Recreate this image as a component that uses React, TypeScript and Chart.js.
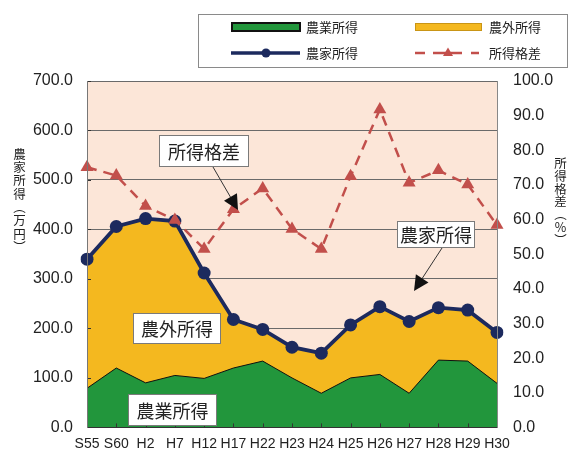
import React, { useEffect, useRef } from "react";
import { Chart, registerables } from "chart.js";

Chart.register(...registerables);

const categories = ["S55", "S60", "H2", "H7", "H12", "H17", "H22", "H23", "H24", "H25", "H26", "H27", "H28", "H29", "H30"];
// 農業所得 (万円)
const farmIncome = [79, 120, 90, 105, 99, 120, 134, 100, 69, 100, 107, 69, 136, 134, 89];
// 農家所得 (万円) = top of 農外所得 area
const householdIncome = [340, 406, 422, 417, 312, 218, 198, 162, 150, 207, 244, 214, 242, 237, 192];
// 所得格差 (%)
const incomeGap = [75.1, 72.7, 63.9, 59.9, 51.5, 63.0, 69.0, 57.3, 51.5, 72.5, 91.8, 70.6, 74.2, 70.1, 58.4];

const leftAxisMax = 700;
const leftAxisStep = 100;
const rightAxisMax = 100;
const rightAxisStep = 10;

const legendLabels = ["農業所得", "農外所得", "農家所得", "所得格差"];
const leftTitle = ["農", "家", "所", "得", "︵", "万", "円", "︶"];
const rightTitle = ["所", "得", "格", "差", "︵", "%", "︶"];

const GREEN = "#22963c";
const YELLOW = "#f4b81f";
const NAVY = "#1c2a5e";
const RED = "#c24f4b";
const CJK = '"Noto Sans CJK JP", "Noto Sans", sans-serif';
const LATIN = '"Liberation Sans", Arial, sans-serif';

function drawArrow(ctx: CanvasRenderingContext2D, x1: number, y1: number, x2: number, y2: number) {
  const dx = x2 - x1;
  const dy = y2 - y1;
  const len = Math.hypot(dx, dy);
  const ux = dx / len;
  const uy = dy / len;
  const hl = 15;
  const hw = 7.5;
  const bx = x2 - ux * hl;
  const by = y2 - uy * hl;
  ctx.save();
  ctx.strokeStyle = "#333";
  ctx.lineWidth = 1;
  ctx.beginPath();
  ctx.moveTo(x1, y1);
  ctx.lineTo(bx, by);
  ctx.stroke();
  ctx.fillStyle = "#111";
  ctx.beginPath();
  ctx.moveTo(x2, y2);
  ctx.lineTo(bx - uy * hw, by + ux * hw);
  ctx.lineTo(bx + uy * hw, by - ux * hw);
  ctx.closePath();
  ctx.fill();
  ctx.restore();
}

function drawBox(ctx: CanvasRenderingContext2D, x: number, y: number, w: number, h: number, text: string) {
  ctx.save();
  ctx.fillStyle = "#ffffff";
  ctx.fillRect(x, y, w, h);
  ctx.strokeStyle = "#7a7a7a";
  ctx.lineWidth = 1;
  ctx.strokeRect(x + 0.5, y + 0.5, w - 1, h - 1);
  ctx.fillStyle = "#222";
  ctx.font = `18px ${CJK}`;
  ctx.textAlign = "center";
  ctx.textBaseline = "middle";
  ctx.fillText(text, x + w / 2, y + h / 2 + 1);
  ctx.restore();
}

const decorPlugin = {
  id: "decor",
  beforeDraw(chart: any) {
    const { ctx, chartArea: a } = chart;
    ctx.save();
    ctx.fillStyle = "#ffffff";
    ctx.fillRect(0, 0, chart.width, chart.height);
    ctx.fillStyle = "#fce6d8";
    ctx.fillRect(a.left, a.top, a.right - a.left, a.bottom - a.top);
    ctx.restore();
  },
  afterDatasetsDraw(chart: any) {
    // small inward tick marks on the bottom and left axes
    const ctx: CanvasRenderingContext2D = chart.ctx;
    const a = chart.chartArea;
    const xs = chart.scales.x;
    const ys = chart.scales.y;
    ctx.save();
    ctx.strokeStyle = "#333";
    ctx.lineWidth = 1;
    ctx.beginPath();
    categories.forEach((_, i) => {
      const px = Math.round(xs.getPixelForValue(i)) + 0.5;
      ctx.moveTo(px, a.bottom);
      ctx.lineTo(px, a.bottom - 4);
    });
    for (let v = 0; v <= leftAxisMax; v += leftAxisStep) {
      const py = Math.round(ys.getPixelForValue(v)) + 0.5;
      ctx.moveTo(a.left, py);
      ctx.lineTo(a.left + 4, py);
    }
    ctx.stroke();
    ctx.restore();
  },
  afterDraw(chart: any) {
    const ctx: CanvasRenderingContext2D = chart.ctx;
    // legend box
    ctx.save();
    ctx.strokeStyle = "#8a8a8a";
    ctx.lineWidth = 1;
    ctx.strokeRect(198.5, 14.5, 369, 53);
    // green swatch
    ctx.fillStyle = GREEN;
    ctx.fillRect(232, 23, 68, 8);
    ctx.strokeStyle = "#111";
    ctx.lineWidth = 2;
    ctx.strokeRect(232, 23, 68, 8);
    // yellow swatch
    ctx.fillStyle = YELLOW;
    ctx.fillRect(415, 23, 67, 8);
    ctx.strokeStyle = "#c99516";
    ctx.lineWidth = 1;
    ctx.strokeRect(415.5, 23.5, 66, 7);
    // navy line
    ctx.strokeStyle = NAVY;
    ctx.lineWidth = 3.5;
    ctx.beginPath();
    ctx.moveTo(231, 53);
    ctx.lineTo(300, 53);
    ctx.stroke();
    ctx.fillStyle = NAVY;
    ctx.beginPath();
    ctx.arc(266, 53, 4.5, 0, Math.PI * 2);
    ctx.fill();
    // red dashed
    ctx.strokeStyle = RED;
    ctx.lineWidth = 2.5;
    const segs = [[415, 425], [433, 462], [471, 479]];
    for (const [s, e] of segs) {
      ctx.beginPath();
      ctx.moveTo(s, 53);
      ctx.lineTo(e, 53);
      ctx.stroke();
    }
    ctx.fillStyle = RED;
    ctx.beginPath();
    ctx.moveTo(448, 47.5);
    ctx.lineTo(453, 56);
    ctx.lineTo(443, 56);
    ctx.closePath();
    ctx.fill();
    // legend text
    ctx.fillStyle = "#222";
    ctx.font = `13px ${CJK}`;
    ctx.textAlign = "left";
    ctx.textBaseline = "middle";
    ctx.fillText(legendLabels[0], 306, 27);
    ctx.fillText(legendLabels[1], 489, 27);
    ctx.fillText(legendLabels[2], 306, 53);
    ctx.fillText(legendLabels[3], 489, 53);

    // axis titles (vertical, upright characters)
    ctx.textAlign = "center";
    ctx.font = `12.5px ${CJK}`;
    leftTitle.forEach((ch, i) => ctx.fillText(ch, 19.5, 154 + 13.3 * i));
    rightTitle.forEach((ch, i) => ctx.fillText(ch, 560.5, 163 + 12.9 * i));
    ctx.restore();

    // annotations
    drawArrow(ctx, 213, 167, 238, 210);
    drawArrow(ctx, 442, 248, 414, 291);
    drawBox(ctx, 159, 135, 90, 32, "所得格差");
    drawBox(ctx, 397, 221, 78, 27, "農家所得");
    drawBox(ctx, 133, 313, 88, 31, "農外所得");
    drawBox(ctx, 128, 394, 89, 32, "農業所得");
  },
};

export default function App() {
  const canvasRef = useRef<HTMLCanvasElement | null>(null);

  useEffect(() => {
    document.body.style.margin = "0";
    const canvas = canvasRef.current;
    if (!canvas) return;
    const chart = new Chart(canvas, {
      type: "line",
      data: {
        labels: categories,
        datasets: [
          {
            label: "所得格差",
            data: incomeGap,
            yAxisID: "y1",
            borderColor: RED,
            backgroundColor: RED,
            borderWidth: 2.5,
            borderDash: [10, 7],
            pointStyle: "triangle",
            pointRadius: 7.5,
            pointBorderWidth: 0,
            pointBackgroundColor: RED,
            fill: false,
            tension: 0,
          },
          {
            label: "農家所得",
            data: householdIncome,
            yAxisID: "y",
            borderColor: NAVY,
            backgroundColor: NAVY,
            borderWidth: 3.8,
            pointRadius: 6.5,
            pointBorderWidth: 0,
            pointBackgroundColor: NAVY,
            fill: false,
            tension: 0,
          },
          {
            label: "農業所得",
            data: farmIncome,
            yAxisID: "y",
            borderColor: "#111",
            borderWidth: 1,
            backgroundColor: GREEN,
            pointRadius: 0,
            fill: "origin",
            tension: 0,
          },
          {
            label: "農外所得",
            data: householdIncome,
            yAxisID: "y",
            borderColor: YELLOW,
            borderWidth: 0,
            backgroundColor: YELLOW,
            pointRadius: 0,
            fill: "origin",
            tension: 0,
          },
        ],
      },
      options: {
        responsive: false,
        animation: false,
        devicePixelRatio: 1,
        layout: { padding: { top: 81, left: 0, right: 0, bottom: 0 } },
        plugins: { legend: { display: false }, tooltip: { enabled: false } },
        scales: {
          x: {
            offset: false,
            grid: { display: false, drawTicks: false },
            border: { display: true, color: "#333", width: 1, z: 1 },
            ticks: {
              autoSkip: false,
              maxRotation: 0,
              minRotation: 0,
              padding: 8,
              color: "#222",
              font: { family: LATIN, size: 14 },
            },
            afterFit(scale: any) {
              scale.height = 23;
            },
          },
          y: {
            position: "left",
            min: 0,
            max: leftAxisMax,
            grid: { color: "#6a6a6a", lineWidth: 1, drawTicks: false },
            border: { display: true, color: "#777", width: 1, z: 1 },
            ticks: {
              stepSize: leftAxisStep,
              padding: 14,
              color: "#222",
              font: { family: LATIN, size: 16 },
              callback: (v: any) => Number(v).toFixed(1),
            },
            afterFit(scale: any) {
              scale.width = 87;
            },
          },
          y1: {
            position: "right",
            min: 0,
            max: rightAxisMax,
            grid: { display: false, drawTicks: false },
            border: { display: true, color: "#888", width: 1, z: 1 },
            ticks: {
              stepSize: rightAxisStep,
              padding: 16,
              color: "#222",
              font: { family: LATIN, size: 16 },
              callback: (v: any) => Number(v).toFixed(1),
            },
            afterFit(scale: any) {
              scale.width = 72;
            },
          },
        },
      },
      plugins: [decorPlugin],
    });
    return () => chart.destroy();
  }, []);

  return (
    <div style={{ width: 569, height: 453, position: "relative" }}>
      <canvas ref={canvasRef} width={569} height={453} style={{ display: "block" }} />
    </div>
  );
}
